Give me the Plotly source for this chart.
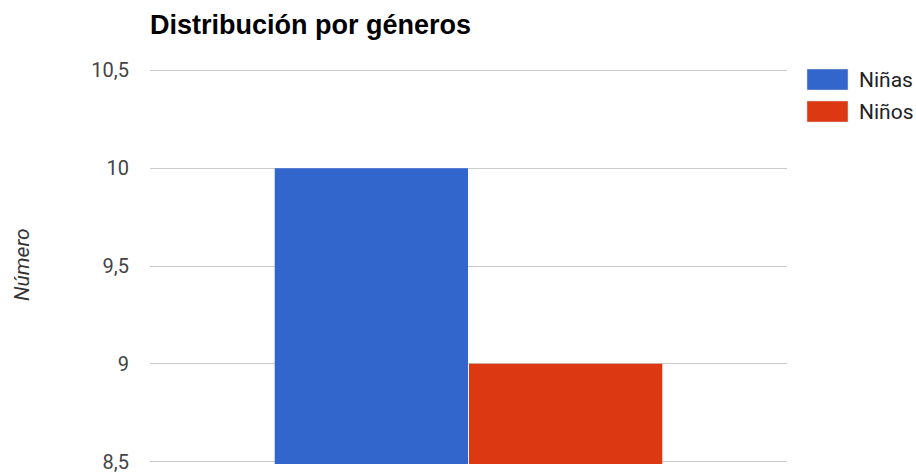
import plotly.graph_objects as go

categories = ["Género"]
series_names = ["Niñas", "Niños"]
ninas = [10]
ninos = [9]
colors = ["#3366cc", "#dc3912"]
y_ticks = [8.5, 9, 9.5, 10, 10.5]

fig = go.Figure()
for name, vals, col in zip(series_names, [ninas, ninos], colors):
    fig.add_trace(go.Bar(x=categories, y=vals, name=name, marker_color=col,
                         marker_line_width=0, showlegend=False))

font_family = "Roboto, Arial, sans-serif"
W, H = 916, 473
L, R, T, B = 150, 129, 68, 9
pw, ph = W - L - R, H - T - B

def px_x(x):
    return (x - L) / pw

def px_y(y):
    return 1 - (y - T) / ph

shapes = []
annotations = []
# custom legend (large swatches as in reference)
for i, (name, col) in enumerate(zip(series_names, colors)):
    top = 69 + i * 32
    shapes.append(dict(type="rect", xref="paper", yref="paper",
                       x0=px_x(807), x1=px_x(848), y0=px_y(top + 21), y1=px_y(top),
                       fillcolor=col, line=dict(width=0.5, color="#dddddd")))
    annotations.append(dict(text=name, xref="paper", yref="paper",
                            x=px_x(857), y=px_y(top + 10.5), xanchor="left", yanchor="middle",
                            showarrow=False,
                            font=dict(family=font_family, size=21, color="#222222")))

annotations.append(dict(text="<i>Número</i>", xref="paper", yref="paper", x=px_x(22),
                        y=px_y(265), xanchor="center", yanchor="middle", textangle=-90,
                        showarrow=False, font=dict(family=font_family, size=21, color="#333333")))

fig.update_layout(
    width=W, height=H,
    margin=dict(l=L, r=R, t=T, b=B, autoexpand=False),
    paper_bgcolor="white", plot_bgcolor="white",
    separators=", ",
    barmode="group", bargap=0.39, bargroupgap=0.005,
    font=dict(family=font_family, size=18, color="#444444"),
    title=dict(text="<b>Distribución por géneros</b>", x=150/W, xanchor="left",
               y=1 - 25/H, yanchor="middle", xref="container", yref="container",
               font=dict(family="Liberation Sans, Arial, sans-serif", size=27, color="#000000")),
    showlegend=False,
    xaxis=dict(showticklabels=False, showgrid=False, zeroline=False, showline=False),
    yaxis=dict(range=[8.488, 10.512], tickvals=y_ticks, showgrid=True, gridcolor="#cccccc",
               gridwidth=1, zeroline=False, showline=False, ticks="",
               ticklabeloverflow="allow", automargin=False,
               ticklabelstandoff=20, tickfont=dict(family=font_family, size=20, color="#444444")),
    shapes=shapes,
    annotations=annotations,
)

fig.write_html("out.html")
